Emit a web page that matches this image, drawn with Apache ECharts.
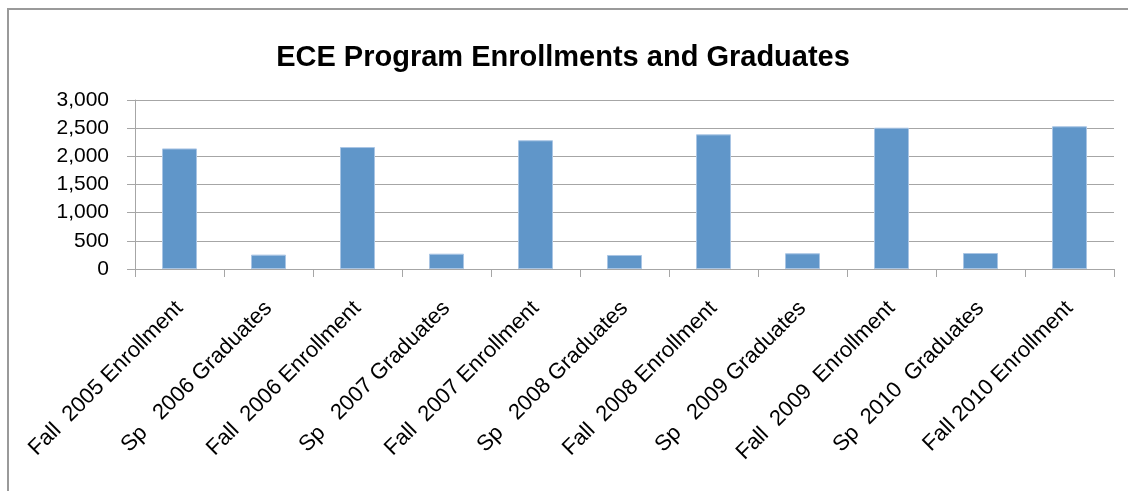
<!DOCTYPE html>
<html>
<head>
<meta charset="utf-8">
<script src="https://cdn.jsdelivr.net/npm/echarts@6/dist/echarts.min.js"></script>
<style>
  html, body { margin: 0; padding: 0; background: #fff; }
  #chart { width: 1128px; height: 491px; }
</style>
</head>
<body>
<div id="chart"></div>
<script>
// categories along x
var categories = [
  'Fall  2005 Enrollment', 'Sp   2006 Graduates', 'Fall  2006 Enrollment',
  'Sp   2007 Graduates', 'Fall  2007 Enrollment', 'Sp   2008 Graduates',
  'Fall  2008 Enrollment', 'Sp   2009 Graduates', 'Fall  2009  Enrollment',
  'Sp  2010  Graduates', 'Fall 2010 Enrollment'
]
// values
var counts = [2140, 255, 2165, 272, 2285, 249, 2390, 279, 2508, 284, 2533]
var yTicks = [0, 500, 1000, 1500, 2000, 2500, 3000]

var chart = echarts.init(document.getElementById('chart'))
var font = '"Liberation Sans", Arial, sans-serif'

var option = {
  animation: false,
  backgroundColor: '#fff',
  textStyle: { fontFamily: font },
  title: {
    text: 'ECE Program Enrollments and Graduates',
    left: 558,
    top: 38,
    textAlign: 'center',
    textStyle: { fontSize: 29, fontWeight: 'bold', color: '#000', fontFamily: font }
  },
  graphic: [
    {
      type: 'rect',
      shape: { x: 8, y: 9, width: 1140, height: 520 },
      style: { fill: 'none', stroke: '#9a9a9a', lineWidth: 2 },
      silent: true
    }
  ],
  grid: { left: 135, right: 14, top: 100, bottom: 222 },
  xAxis: {
    type: 'category',
    data: categories,
    axisLine: { show: true, lineStyle: { color: '#a6a6a6', width: 1 } },
    // 刻度线在类目之间
    axisTick: { show: true, length: 8, lineStyle: { color: '#a6a6a6' } },
    axisLabel: {
      rotate: 45,
      margin: 36,
      interval: 0,
      fontSize: 22,
      color: '#000',
      fontFamily: font
    }
  },
  yAxis: {
    type: 'value',
    min: yTicks[0],
    max: yTicks[yTicks.length - 1],
    interval: 500,
    axisLine: { show: true, lineStyle: { color: '#a6a6a6', width: 1 } },
    axisTick: { show: true, length: 8, lineStyle: { color: '#a6a6a6' } },
    axisLabel: {
      margin: 26,
      fontSize: 21,
      color: '#000',
      fontFamily: font,
      formatter: function (v) { return v.toLocaleString('en-US') }
    },
    splitLine: { show: true, lineStyle: { color: '#a6a6a6', width: 1.2 } }
  },
  series: [
    {
      type: 'bar',
      data: counts,
      barWidth: 35,
      itemStyle: { color: '#6096c9', borderColor: '#a9c5e4', borderWidth: 1 }
    }
  ]
}

chart.setOption(option)
</script>
</body>
</html>
